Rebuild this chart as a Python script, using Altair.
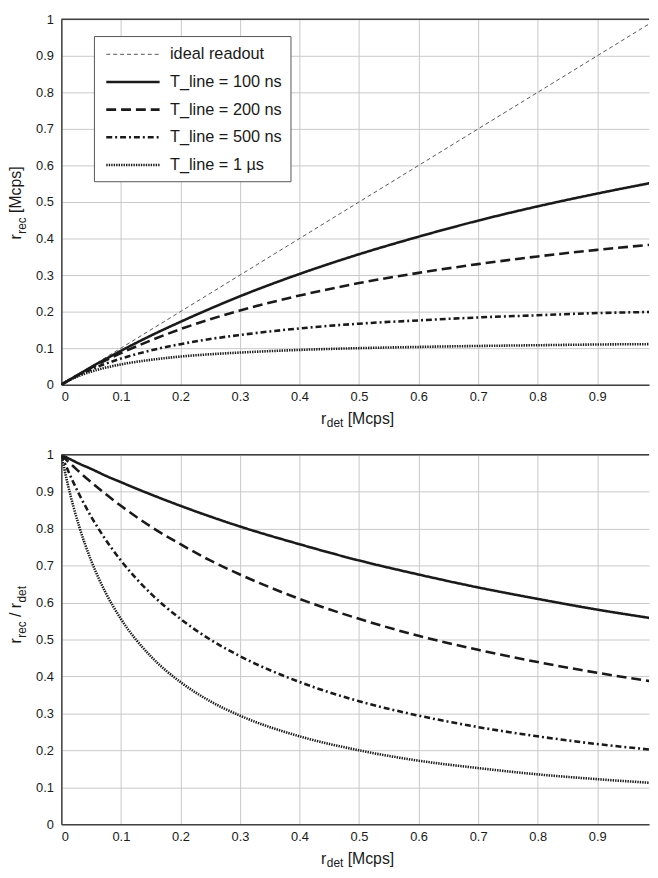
import altair as alt
import pandas as pd

# ---------------- data ----------------
r_det = [0, 0.01, 0.02, 0.03, 0.05, 0.075, 0.1, 0.15, 0.2, 0.25, 0.3, 0.4, 0.5, 0.6, 0.7, 0.8, 0.9, 0.99]

rec_100 = [0, 0.0099, 0.0197, 0.0293, 0.0481, 0.0707, 0.0926, 0.134, 0.172, 0.208, 0.242, 0.303, 0.357, 0.405, 0.449, 0.488, 0.523, 0.552]
rec_200 = [0, 0.0098, 0.0194, 0.0286, 0.0463, 0.0670, 0.0862, 0.121, 0.152, 0.179, 0.203, 0.244, 0.278, 0.306, 0.330, 0.351, 0.369, 0.383]
rec_500 = [0, 0.0096, 0.0185, 0.0268, 0.0417, 0.0577, 0.0714, 0.0938, 0.111, 0.125, 0.136, 0.154, 0.167, 0.176, 0.184, 0.190, 0.196, 0.199]
rec_1us = [0, 0.0093, 0.0172, 0.0242, 0.0357, 0.0469, 0.0556, 0.068, 0.077, 0.0833, 0.088, 0.0952, 0.100, 0.1034, 0.106, 0.108, 0.110, 0.111]

ratio_100 = [1, 0.992, 0.984, 0.976, 0.962, 0.943, 0.926, 0.893, 0.862, 0.833, 0.806, 0.758, 0.714, 0.676, 0.641, 0.610, 0.581, 0.558]
ratio_200 = [1, 0.984, 0.969, 0.954, 0.926, 0.893, 0.862, 0.806, 0.758, 0.714, 0.676, 0.610, 0.556, 0.510, 0.472, 0.439, 0.410, 0.387]
ratio_500 = [1, 0.962, 0.926, 0.893, 0.833, 0.769, 0.714, 0.625, 0.556, 0.500, 0.455, 0.385, 0.333, 0.294, 0.263, 0.238, 0.217, 0.202]
ratio_1us = [1, 0.926, 0.862, 0.806, 0.714, 0.625, 0.556, 0.455, 0.385, 0.333, 0.294, 0.238, 0.200, 0.172, 0.152, 0.135, 0.122, 0.112]

ideal_x = [0, 0.99]
ideal_y = [0, 0.99]

series_names = ["ideal readout", "T_line = 100 ns", "T_line = 200 ns", "T_line = 500 ns", "T_line = 1 µs"]
tick_values = [0, 0.1, 0.2, 0.3, 0.4, 0.5, 0.6, 0.7, 0.8, 0.9, 1]

# ---------------- tables ----------------
def long_table(xs, cols):
    rows = []
    for name, ys in cols:
        for x, y in zip(xs, ys):
            rows.append({"x": x, "y": y, "series": name})
    return rows

top_rows = [{"x": x, "y": y, "series": series_names[0]} for x, y in zip(ideal_x, ideal_y)]
top_rows += long_table(r_det, [(series_names[1], rec_100), (series_names[2], rec_200),
                               (series_names[3], rec_500), (series_names[4], rec_1us)])
bot_rows = long_table(r_det, [(series_names[1], ratio_100), (series_names[2], ratio_200),
                              (series_names[3], ratio_500), (series_names[4], ratio_1us)])
top_df = pd.DataFrame(top_rows)
bot_df = pd.DataFrame(bot_rows)
one = pd.DataFrame({"a": [0]})

FONT = "Liberation Sans"
INK = "#1a1a1a"
W = 595
H_TOP, H_BOT = 370, 374
XMAX = 0.987

colors = ["#555555", INK, INK, INK, INK]
dashes = [[4, 3], [1, 0], [10, 5], [6, 3, 2, 3], [1.4, 1.1]]
widths = [1, 2.6, 2.6, 2.6, 2.6]

xscale = alt.Scale(domain=[0, XMAX], nice=False, zero=False)
yscale = alt.Scale(domain=[0, 1], nice=False)

def enc_legend(show):
    if not show:
        return None
    return alt.Legend(title=None, orient="none", legendX=33, legendY=17,
                      symbolType="M-2.7,0H2.7", symbolSize=400, symbolOffset=20,
                      labelOffset=26, labelFontSize=16.5, labelFont=FONT, labelColor=INK,
                      labelLimit=400, padding=8, rowPadding=8,
                      fillColor="white", strokeColor="#555555")

def xaxis():
    return alt.Axis(values=tick_values, format="~g", grid=True, gridColor="#c8c8c8",
                    domainColor="#404040", domainWidth=1.5, ticks=False, labelOverlap=False,
                    labelFontSize=13, labelFont=FONT, labelColor=INK, labelPadding=6, title=None)

def yaxis():
    return alt.Axis(values=tick_values, format="~g", grid=True, gridColor="#c8c8c8",
                    domainColor="#404040", domainWidth=1.5, ticks=False, labelOverlap=False,
                    labelFontSize=13, labelFont=FONT, labelColor=INK, labelPadding=8, title=None)

def lines(df, show_legend):
    leg = enc_legend(show_legend)
    return alt.Chart(df).mark_line(clip=True, interpolate="monotone").encode(
        x=alt.X("x:Q", scale=xscale, axis=xaxis()),
        y=alt.Y("y:Q", scale=yscale, axis=yaxis()),
        color=alt.Color("series:N", scale=alt.Scale(domain=series_names, range=colors), legend=leg),
        strokeDash=alt.StrokeDash("series:N", scale=alt.Scale(domain=series_names, range=dashes), legend=leg),
        strokeWidth=alt.StrokeWidth("series:N", scale=alt.Scale(type="ordinal", domain=series_names, range=widths), legend=leg),
        order=alt.Order("series:N"),
    )

def frame_top():
    return alt.Chart(one).mark_rule(color="#404040", strokeWidth=1.5).encode(
        y=alt.Y(datum=1, scale=yscale, axis=yaxis()))

def txt(s, x, y, size, angle=0):
    kw = dict(font=FONT, fontSize=size, color=INK, align="left", baseline="alphabetic")
    if angle:
        kw["angle"] = angle
    return alt.Chart(one).mark_text(**kw).encode(x=alt.value(x), y=alt.value(y), text=alt.value(s))

def xtitle(h):
    b = h + 40
    return [txt("r", 263, b, 16), txt("det", 268.8, b + 3, 12), txt("[Mcps]", 289.9, b, 16)]

# top y title
top_ytitle = [txt("r", -41, 223, 16, 270), txt("rec", -36, 217.2, 12, 270),
              txt("[Mcps]", -41, 196.1, 16, 270)]
# bottom y title
bot_ytitle = [txt("r", -41, 191, 16, 270), txt("rec", -36, 185.2, 12, 270),
              txt("/", -41, 164.1, 16, 270),
              txt("r", -41, 155.3, 16, 270), txt("det", -36, 149.5, 12, 270)]

top = alt.layer(lines(top_df, True), frame_top(), *xtitle(H_TOP), *top_ytitle).properties(width=W, height=H_TOP)
bot = alt.layer(lines(bot_df, False), frame_top(), *xtitle(H_BOT), *bot_ytitle).properties(width=W, height=H_BOT)

chart = alt.vconcat(top, bot, spacing=20).resolve_scale(
    color="independent", strokeDash="independent", strokeWidth="independent"
).resolve_legend(
    color="independent", strokeDash="independent", strokeWidth="independent"
).properties(
    padding={"left": 0, "top": 0, "right": 0, "bottom": 0}
).configure_view(stroke=None)

chart.save("out.html", embed_options={"renderer": "svg", "actions": False})
